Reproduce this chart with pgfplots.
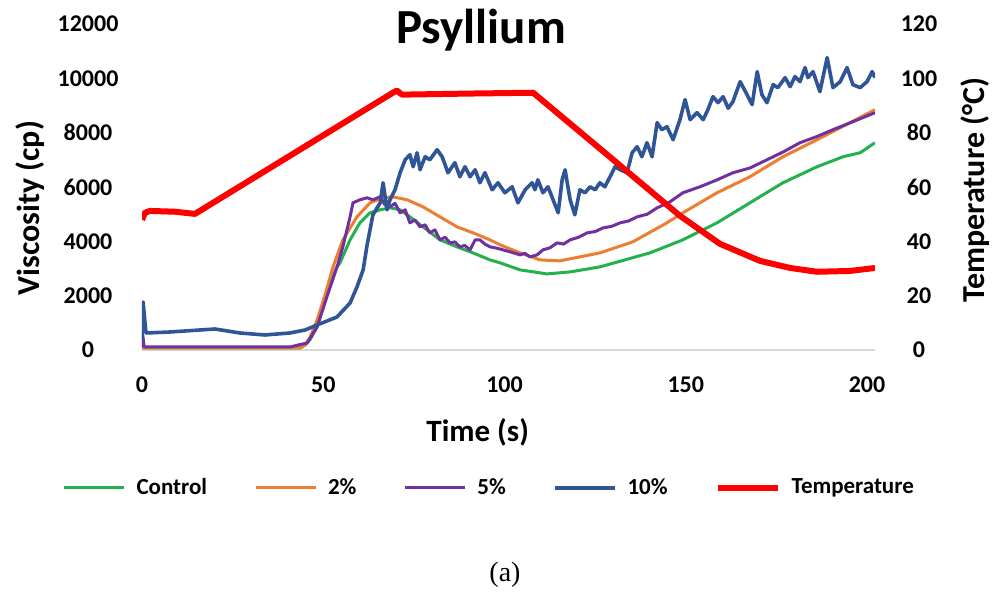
\documentclass[border=0pt]{standalone}
\usepackage{fontspec}
\setmainfont{Carlito}
\newfontfamily\capserif{Liberation Serif}
\usepackage{pgfplots}
\pgfplotsset{compat=1.18}
\definecolor{ctrlgreen}{RGB}{34,177,76}
\definecolor{twoorange}{RGB}{237,125,49}
\definecolor{fivepurple}{RGB}{112,48,160}
\definecolor{tenblue}{RGB}{47,85,151}

\pgfplotsset{
  visc/.style={
    at={(0,0)}, anchor=south west,
    scale only axis, width=366.5pt, height=163pt,
    xmin=0, xmax=202.2,
    major tick length=0pt,
    scaled y ticks=false,
    tick label style={font=\fontsize{12}{14}\selectfont\bfseries},
    /pgf/number format/assume math mode=true,
    /pgf/number format/1000 sep={},
    every axis plot/.append style={no markers, line join=round},
  }
}

\begin{document}
\begin{tikzpicture}
\useasboundingbox (-71pt,-131pt) rectangle (431.5pt,175pt);
\begin{axis}[
  visc,
  ymin=0, ymax=12000,
  axis x line*=bottom, axis y line*=left,
  x axis line style={draw=black!15, line width=0.8pt, -},
  y axis line style={draw=none},
  xtick={0,50,...,200}, ytick={0,2000,...,12000},
  xticklabel style={anchor=center, yshift=-17.5pt},
  yticklabel style={anchor=center, xshift=-27pt},
  title={Psyllium},
  every axis title/.style={at={(axis description cs:0.4625,0.982)}, anchor=center,
    font=\fontsize{24.5}{28}\selectfont\bfseries},
  xlabel={Time (s)}, ylabel={Viscosity (cp)},
  every axis x label/.style={at={(axis description cs:0.458,-0.252)}, anchor=center,
    font=\fontsize{15.5}{18}\selectfont\bfseries},
  every axis y label/.style={at={(axis description cs:-0.153,0.435)}, rotate=90, anchor=center,
    font=\fontsize{16}{18}\selectfont\bfseries},
  legend style={at={(axis description cs:0.475,-0.423)}, anchor=center,
    draw=none, fill=none, legend columns=5,
    font=\fontsize{11.5}{13}\selectfont\bfseries,
    /tikz/every even column/.append style={column sep=21.5pt}},
  legend image code/.code={\draw[#1] (0pt,0pt) -- (30pt,0pt); \path (33.5pt,0pt);},
]
% Control
\addplot[ctrlgreen, line width=1.5pt] table[row sep=\\] {
t v\\
0 74\\ 43.6 74\\ 45 184\\ 46.3 369\\ 48.3 848\\ 49.9 1585\\ 51.9 2470\\
53.8 3059\\ 54.6 3207\\ 57.4 4055\\ 60.1 4681\\ 62.9 5050\\ 65.7 5160\\
68.4 5234\\ 71.2 5160\\ 73.9 4902\\ 77.5 4534\\ 82.2 4055\\ 86.9 3797\\
91.3 3575\\ 96 3317\\ 98.8 3207\\ 104.3 2949\\ 111.7 2801\\ 118.1 2875\\
126.3 3059\\ 140.1 3575\\ 149.2 4055\\ 158.6 4681\\ 167.7 5418\\
176.8 6156\\ 186.2 6745\\ 193.4 7114\\ 198.1 7261\\ 202.2 7630\\
};
\addlegendentry{Control}
% 2%
\addplot[twoorange, line width=1.5pt] table[row sep=\\] {
t v\\
0 74\\ 43.6 74\\ 45 184\\ 46.3 442\\ 48.3 1106\\ 50.5 2027\\ 52.7 3059\\
55.4 4055\\ 59.3 4902\\ 62.9 5418\\ 66.5 5603\\ 69.2 5640\\ 73.1 5529\\
77.5 5271\\ 82.2 4902\\ 86.9 4534\\ 91.3 4313\\ 96 4055\\ 98.8 3870\\
104.3 3575\\ 109.8 3317\\ 115.3 3281\\ 126.3 3575\\ 135.4 3981\\
144.8 4681\\ 149.2 5050\\ 158.6 5787\\ 167.7 6377\\ 176.8 7114\\
186.2 7741\\ 195.3 8367\\ 202.2 8846\\
};
\addlegendentry{2\%}
% 5%
\addplot[fivepurple, line width=1.5pt] table[row sep=\\] {
t v\\
0 111\\ 0.15 627\\ 0.6 111\\ 40.8 111\\ 45.5 258\\ 48.3 848\\ 51 1954\\
53.8 3059\\ 55.4 3797\\ 57.4 4902\\ 58.2 5418\\ 60.1 5529\\ 62.1 5603\\
63.7 5529\\ 65.7 5640\\ 67 5345\\ 68.4 5271\\ 69.8 5400\\ 71.2 5050\\
72.6 5160\\ 73.9 4681\\ 75.3 4792\\ 76.7 4534\\ 78.1 4608\\ 79.4 4313\\
80.8 4423\\ 82.2 4055\\ 83.6 4150\\ 85 3944\\ 86.3 3980\\ 87.7 3797\\
89 3850\\ 90.5 3686\\ 91.9 4055\\ 93.2 4055\\ 94.6 3900\\ 96 3797\\
97.8 3750\\ 99.6 3686\\ 101.9 3600\\ 104.3 3502\\ 105.6 3560\\ 107 3428\\
109 3502\\ 110.6 3686\\ 112.5 3760\\ 114.5 3944\\ 116.3 3900\\ 118.1 4055\\
120.4 4150\\ 122.8 4313\\ 125 4360\\ 127.2 4497\\ 129.5 4550\\ 131.9 4681\\
134.2 4750\\ 136.6 4902\\ 139.4 5000\\ 142.1 5234\\ 145.6 5450\\
149.2 5787\\ 153.9 6008\\ 158.4 6250\\ 163 6524\\ 167.7 6700\\ 172.4 7003\\
177 7300\\ 181.5 7630\\ 186 7850\\ 190.6 8109\\ 196.4 8420\\ 202.2 8736\\
};
\addlegendentry{5\%}
% 10%
\addplot[tenblue, line width=1.8pt] table[row sep=\\] {
t v\\
0 369\\ 0.3 1769\\ 1.1 627\\ 7.7 663\\ 16 737\\ 20.1 774\\ 27 627\\
33.9 553\\ 40.8 627\\ 45 737\\ 48.3 922\\ 53.8 1216\\ 57.4 1732\\
59.3 2322\\ 61 2949\\ 62.1 3870\\ 63.7 4976\\ 65.7 5418\\ 66.5 6156\\
67.6 5160\\ 68.4 5529\\ 69.8 5898\\ 71.2 6524\\ 72.6 7003\\ 73.9 7188\\
74.8 6745\\ 75.9 7261\\ 76.7 6635\\ 78.1 7114\\ 79.4 7003\\ 81.4 7372\\
82.8 7114\\ 84.4 6524\\ 86.3 6893\\ 87.7 6377\\ 89.1 6745\\ 90.5 6377\\
91.9 6635\\ 93.2 6156\\ 94.6 6524\\ 96.6 5898\\ 98.2 6156\\ 100.1 5787\\
102.1 6008\\ 103.7 5418\\ 105.7 5898\\ 107.6 6156\\ 108.4 5898\\
109.2 6266\\ 110.6 5787\\ 112 6008\\ 113.4 5529\\ 114.8 5050\\
115.9 6266\\ 116.7 6635\\ 118.1 5529\\ 119.4 4976\\ 120.8 5898\\
122.2 5787\\ 123.6 6008\\ 125 5898\\ 126.3 6156\\ 127.7 6008\\
129.1 6377\\ 130.5 6745\\ 131.9 6635\\ 133.8 6524\\ 135.2 7261\\
136.6 7483\\ 137.9 7114\\ 139.3 7630\\ 140.7 7114\\ 142.1 8367\\
143.4 8109\\ 144.8 8220\\ 146.5 7741\\ 148.4 8478\\ 149.8 9215\\
151.2 8478\\ 153.1 8736\\ 154.8 8478\\ 156.1 8846\\ 157.5 9326\\
158.9 9104\\ 160.3 9326\\ 161.7 8900\\ 163 9141\\ 165 9878\\
166.9 9399\\ 168.3 9031\\ 169.7 10247\\ 171 9399\\ 172.4 9104\\
174.1 9768\\ 175.4 9657\\ 177.4 10026\\ 178.8 9694\\ 180.1 10063\\
181.5 9878\\ 182.9 10395\\ 183.7 10026\\ 185.1 10247\\ 187 9510\\
189 10763\\ 190.6 9657\\ 192.6 9878\\ 194.5 10395\\ 196.1 9768\\
198.1 9657\\ 200 9878\\ 201.4 10247\\ 202.2 10026\\
};
\addlegendentry{10\%}
\addlegendimage{red, line width=3pt}
\addlegendentry{Temperature}
\end{axis}

\begin{axis}[
  visc,
  ymin=0, ymax=120,
  axis x line=none, axis y line*=right,
  y axis line style={draw=none},
  ytick={0,20,...,120},
  yticklabel style={anchor=center, xshift=22pt},
  ylabel={Temperature (°C)},
  every axis y label/.style={at={(axis description cs:1.136,0.49)}, rotate=90, anchor=center,
    font=\fontsize{16}{18}\selectfont\bfseries},
]
\addplot[red, line width=3pt] table[row sep=\\] {
t T\\
0 47.9\\ 0.8 50.5\\ 2.2 51.2\\ 9.1 50.9\\ 14.6 50.1\\ 69.2 94.7\\
70.3 95.5\\ 71.7 94.0\\ 90.5 94.4\\ 107.9 94.7\\ 131 68.9\\ 148.4 49.4\\
159.4 39.1\\ 170.5 32.8\\ 178.8 30.2\\ 186.2 28.8\\ 195.3 29.1\\ 202.2 30.2\\
};
\end{axis}
\node[font=\capserif\fontsize{14}{16}\selectfont] at (181.5pt,-112.5pt) {(a)};
\end{tikzpicture}
\end{document}
